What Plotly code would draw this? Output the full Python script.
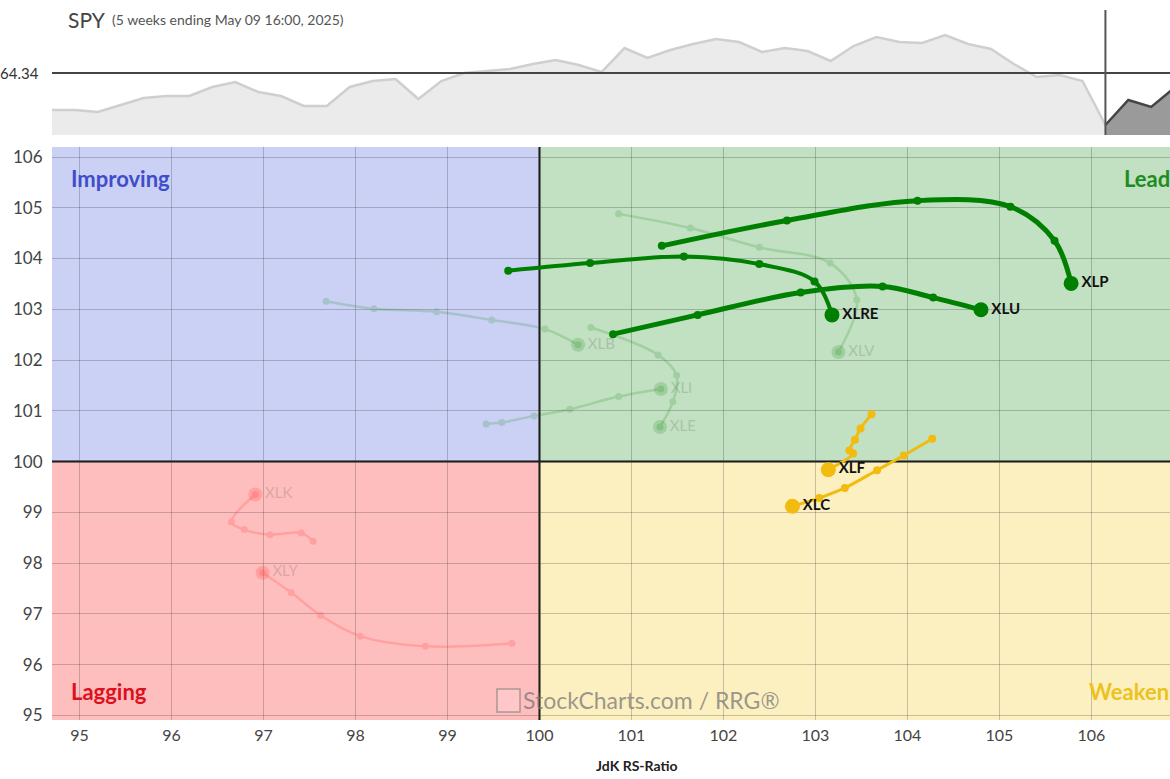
import plotly.graph_objects as go

# ---------------- DATA ----------------
SPY_REF = 564.34
SPY_HIST = [523.6, 523.6, 521.4, 529.1, 536.8, 539.0, 539.0, 548.9, 554.4, 543.4,
            539.0, 528.0, 528.0, 548.9, 555.5, 557.7, 535.7, 555.5, 564.3, 566.5,
            568.7, 574.2, 578.6, 573.1, 565.4, 591.8, 580.8, 589.6, 596.2, 601.7,
            598.4, 587.4, 591.8, 588.5, 577.5, 594.0, 603.9, 598.4, 597.3, 606.1,
            596.2, 590.7, 574.2, 559.9, 562.1, 555.5, 507.1]
SPY_TAIL = [507.1, 534.6, 527.0, 547.8]

XLP_x = [101.33, 102.69, 104.11, 105.12, 105.60, 105.78]
XLP_y = [104.25, 104.75, 105.14, 105.02, 104.35, 103.51]
XLU_x = [100.80, 101.72, 102.84, 103.73, 104.28, 104.80]
XLU_y = [102.51, 102.89, 103.33, 103.45, 103.23, 102.99]
XLRE_x = [99.66, 100.55, 101.57, 102.39, 102.99, 103.18]
XLRE_y = [103.76, 103.91, 104.04, 103.89, 103.55, 102.89]
XLF_x = [103.61, 103.49, 103.43, 103.37, 103.41, 103.14]
XLF_y = [100.93, 100.65, 100.43, 100.22, 100.16, 99.84]
XLC_x = [104.27, 103.96, 103.67, 103.32, 103.04, 102.75]
XLC_y = [100.45, 100.12, 99.83, 99.48, 99.28, 99.12]
XLV_x = [100.86, 101.64, 102.39, 103.16, 103.45, 103.25]
XLV_y = [104.88, 104.60, 104.22, 103.91, 103.19, 102.16]
XLB_x = [97.68, 98.20, 98.88, 99.48, 100.06, 100.42]
XLB_y = [103.16, 103.01, 102.95, 102.79, 102.61, 102.30]
XLI_x = [99.42, 99.59, 99.94, 100.33, 100.86, 101.32]
XLI_y = [100.74, 100.77, 100.90, 101.03, 101.28, 101.43]
XLE_x = [100.56, 101.29, 101.49, 101.45, 101.31]
XLE_y = [102.64, 102.10, 101.70, 101.18, 100.68]
XLK_x = [97.54, 97.41, 97.07, 96.79, 96.65, 96.91]
XLK_y = [98.43, 98.59, 98.56, 98.66, 98.81, 99.35]
XLY_x = [99.70, 98.76, 98.05, 97.62, 97.30, 96.99]
XLY_y = [96.42, 96.36, 96.56, 96.97, 97.42, 97.81]

RATIO_TICKS = [95, 96, 97, 98, 99, 100, 101, 102, 103, 104, 105, 106]
MOM_TICKS = [95, 96, 97, 98, 99, 100, 101, 102, 103, 104, 105, 106]

# ---------------- FIGURE ----------------
FONT = "Lato"
X_RANGE = [94.70, 106.855]
Y_RANGE = [94.908, 106.197]

fig = go.Figure()

# top SPY panel
hist_idx = list(range(len(SPY_HIST)))
tail_idx = list(range(len(SPY_HIST) - 1, len(SPY_HIST) - 1 + len(SPY_TAIL)))
fig.add_trace(go.Scatter(x=hist_idx, y=SPY_HIST, xaxis="x2", yaxis="y2", mode="lines",
                         line=dict(color="#cfcfcf", width=2.5), fill="tozeroy",
                         fillcolor="#ebebeb", hoverinfo="skip", showlegend=False))
fig.add_trace(go.Scatter(x=tail_idx, y=SPY_TAIL, xaxis="x2", yaxis="y2", mode="lines",
                         line=dict(color="#454545", width=2.5), fill="tozeroy",
                         fillcolor="#9a9a9a", hoverinfo="skip", showlegend=False))


def trail(xs, ys, name, color, lw, ms, ems, opacity=1.0, label_color="#111", bold=True):
    fig.add_trace(go.Scatter(x=xs, y=ys, mode="lines+markers",
                             line=dict(color=color, width=lw, shape="spline", smoothing=1.0),
                             marker=dict(color=color, size=ms),
                             opacity=opacity, hoverinfo="skip", showlegend=False))
    txt = f"<b>{name}</b>" if bold else name
    fig.add_trace(go.Scatter(x=[xs[-1]], y=[ys[-1]], mode="markers+text",
                             marker=dict(color=color, size=ems),
                             text=[txt], textposition="middle right",
                             textfont=dict(family=FONT, size=15, color=label_color),
                             opacity=opacity, hoverinfo="skip", showlegend=False))


FADE_G = "#008000"
FADE_R = "#ff3c3c"
trail(XLV_x, XLV_y, "XLV", FADE_G, 2.5, 7, 14, 0.17, "#333", False)
trail(XLB_x, XLB_y, "XLB", FADE_G, 2.5, 7, 14, 0.17, "#333", False)
trail(XLI_x, XLI_y, "XLI", FADE_G, 2.5, 7, 14, 0.17, "#333", False)
trail(XLE_x, XLE_y, "XLE", FADE_G, 2.5, 7, 14, 0.17, "#333", False)
trail(XLK_x, XLK_y, "XLK", FADE_R, 2.5, 7, 14, 0.22, "#555", False)
trail(XLY_x, XLY_y, "XLY", FADE_R, 2.5, 7, 14, 0.22, "#555", False)

GREEN = "#008000"
YELLOW = "#f2bb0f"
trail(XLRE_x, XLRE_y, "XLRE", GREEN, 4, 8, 15)
trail(XLU_x, XLU_y, "XLU", GREEN, 5, 8, 15)
trail(XLP_x, XLP_y, "XLP", GREEN, 5, 8, 15)
trail(XLF_x, XLF_y, "XLF", YELLOW, 3, 8, 15)
trail(XLC_x, XLC_y, "XLC", YELLOW, 3, 8, 15)

shapes = [
    dict(type="rect", xref="x", yref="y", x0=X_RANGE[0], x1=100, y0=100, y1=Y_RANGE[1],
         fillcolor="#cbd0f5", line_width=0, layer="below"),
    dict(type="rect", xref="x", yref="y", x0=100, x1=X_RANGE[1], y0=100, y1=Y_RANGE[1],
         fillcolor="#c2e0c2", line_width=0, layer="below"),
    dict(type="rect", xref="x", yref="y", x0=X_RANGE[0], x1=100, y0=Y_RANGE[0], y1=100,
         fillcolor="#ffbebe", line_width=0, layer="below"),
    dict(type="rect", xref="x", yref="y", x0=100, x1=X_RANGE[1], y0=Y_RANGE[0], y1=100,
         fillcolor="#fdf0c0", line_width=0, layer="below"),
    dict(type="line", xref="x", yref="y", x0=100, x1=100, y0=Y_RANGE[0], y1=Y_RANGE[1],
         line=dict(color="#111", width=2), layer="below"),
    dict(type="line", xref="x", yref="y", x0=X_RANGE[0], x1=X_RANGE[1], y0=100, y1=100,
         line=dict(color="#111", width=2), layer="below"),
    # top panel reference lines
    dict(type="line", xref="x2 domain", yref="y2", x0=0, x1=1, y0=SPY_REF, y1=SPY_REF,
         line=dict(color="#444", width=2)),
    dict(type="line", xref="x2", yref="y2 domain", x0=len(SPY_HIST) - 1, x1=len(SPY_HIST) - 1,
         y0=0, y1=1, line=dict(color="#555", width=2)),
    # watermark icon
    dict(type="rect", xref="paper", yref="paper", x0=(497 - 52) / 1118, x1=(520 - 52) / 1118,
         y0=(720 - 712) / 710, y1=(720 - 689) / 710,
         line=dict(color="rgba(120,120,120,0.6)", width=1.5), fillcolor="rgba(255,255,255,0.15)"),
]


def pa(text, px, py, size, color, xanchor="left", bold=False):
    t = f"<b>{text}</b>" if bold else text
    return dict(text=t, xref="paper", yref="paper", x=(px - 52) / 1118, y=(720 - py) / 710,
                xanchor=xanchor, yanchor="middle", showarrow=False,
                font=dict(family=FONT, size=size, color=color))


annotations = [
    pa("SPY", 66, 20, 21, "#444"),
    pa("(5 weeks ending May 09 16:00, 2025)", 110, 20, 14, "#555"),
    pa("64.34", -2, 73, 15, "#333"),
    pa("Improving", 69, 178, 22, "#3f4dc9", bold=True),
    pa("Leading", 1122, 178, 22, "#1e8c1e", bold=True),
    pa("Lagging", 69, 691, 22, "#dd1020", bold=True),
    pa("Weakening", 1087, 691, 22, "#ecc21c", bold=True),
    pa("StockCharts.com / RRG®", 521, 700, 23, "rgba(120,120,120,0.75)"),
    pa("JdK RS-Ratio", 636, 766, 14, "#222", xanchor="center", bold=True),
]

fig.update_layout(
    width=1170, height=779,
    margin=dict(l=52, r=0, t=10, b=59),
    paper_bgcolor="white", plot_bgcolor="white",
    font=dict(family=FONT, size=16, color="#444"),
    xaxis=dict(domain=[0, 1], range=X_RANGE, anchor="y", tickvals=RATIO_TICKS,
               showgrid=True, gridcolor="rgba(60,60,60,0.28)", gridwidth=1,
               zeroline=False, showline=False, ticks="outside", ticklen=1,
               tickcolor="rgba(0,0,0,0)", tickfont=dict(family=FONT, size=16, color="#444")),
    yaxis=dict(domain=[0, 0.807], range=Y_RANGE, anchor="x", tickvals=MOM_TICKS,
               showgrid=True, gridcolor="rgba(60,60,60,0.28)", gridwidth=1,
               zeroline=False, showline=False, ticks="outside", ticklen=5,
               tickcolor="rgba(0,0,0,0)", tickfont=dict(family=FONT, size=17, color="#444")),
    xaxis2=dict(domain=[0, 1], range=[0, 48.82], anchor="y2", visible=False),
    yaxis2=dict(domain=[0.824, 1.0], range=[496.14, 633.64], anchor="x2", visible=False),
    shapes=shapes, annotations=annotations, showlegend=False,
)

fig.write_html("out.html", config={"displayModeBar": False},
               post_script="document.body.style.margin='0';document.body.style.overflow='hidden';")
